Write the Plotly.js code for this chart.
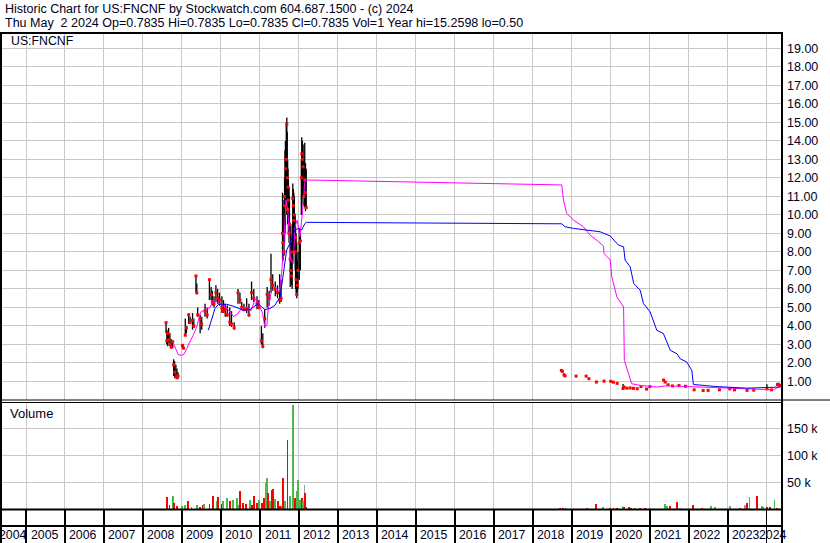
<!DOCTYPE html>
<html>
<head>
<meta charset="utf-8">
<script src="https://cdn.plot.ly/plotly-3.0.1.min.js"></script>
<style>
html,body{margin:0;padding:0;background:#fff;}
#chart{width:830px;height:543px;}
</style>
</head>
<body>
<div id="chart"></div>
<script>
// ---------- DATA ----------
const headerLine1 = "Historic Chart for US:FNCNF by Stockwatch.com 604.687.1500 - (c) 2024";
const headerLine2 = "Thu May \u00a02 2024 Op=0.7835 Hi=0.7835 Lo=0.7835 Cl=0.7835 Vol=1 Year hi=15.2598 lo=0.50";
const symbolLabel = "US:FNCNF";
const volumeLabel = "Volume";

const priceDates = [
 "2008-08-05","2008-08-12","2008-08-20","2008-08-29","2008-09-10","2008-09-22","2008-10-06","2008-10-15","2008-10-24","2008-11-05","2008-11-15","2008-11-25",
 "2009-01-05","2009-01-15","2009-02-01","2009-02-12","2009-03-05","2009-03-18","2009-04-10","2009-04-22","2009-05-12","2009-05-20","2009-05-28","2009-06-20","2009-07-05","2009-08-05","2009-08-25","2009-09-15","2009-10-01","2009-10-12","2009-10-28","2009-11-15","2009-12-01","2009-12-18",
 "2010-01-10","2010-01-25","2010-02-10","2010-03-01","2010-03-25","2010-04-10","2010-05-05","2010-06-10","2010-06-28","2010-07-15","2010-08-05","2010-08-30","2010-09-20","2010-10-15","2010-11-05","2010-12-05","2010-12-22",
 "2011-01-15","2011-01-28","2011-02-15","2011-03-10","2011-03-28","2011-04-15","2011-05-01","2011-05-25","2011-06-15","2011-07-05","2011-07-18",
 "2011-08-01","2011-08-05","2011-08-15","2011-08-20","2011-08-24","2011-08-28","2011-09-05","2011-09-10","2011-09-14","2011-09-18","2011-09-22","2011-09-25",
 "2011-10-01","2011-10-05","2011-10-12","2011-10-18","2011-10-25","2011-10-30","2011-11-05","2011-11-10","2011-11-15","2011-11-20","2011-11-28",
 "2011-12-01","2011-12-06","2011-12-12","2011-12-18","2011-12-24",
 "2012-01-05","2012-01-15","2012-01-24","2012-01-28","2012-02-03","2012-02-10","2012-02-17","2012-02-25","2012-03-03","2012-03-10",
 "2018-09-25","2018-10-05","2018-10-20","2018-10-30","2019-02-10","2019-05-15","2019-06-10","2019-08-20","2019-10-30","2020-01-01","2020-01-25","2020-03-01","2020-04-25","2020-05-05","2020-06-01","2020-07-01","2020-08-01","2020-09-05","2020-10-10","2020-12-01",
 "2021-01-01","2021-05-10","2021-05-25","2021-06-20","2021-08-01","2021-10-01","2021-12-01","2022-02-20","2022-05-15","2022-07-01","2022-10-15","2023-01-20","2023-03-05","2023-07-01","2023-09-01","2024-01-03","2024-02-15","2024-04-10","2024-04-20","2024-05-02"
];
const priceHi = [
 4.18,3.8,3.7,3.9,3.6,3.3,3.2,2.2,2.1,1.9,1.7,1.5,
 3.0,2.95,4.4,4.0,4.7,4.5,4.7,4.4,6.7,6.3,5.0,4.6,4.5,5.2,5.0,6.5,6.1,5.9,5.6,6.2,6.0,5.8,
 5.6,5.4,5.2,5.1,5.0,4.8,4.2,6.0,5.8,5.3,5.2,5.5,5.2,6.4,6.0,5.6,5.4,
 4.0,3.6,4.9,6.1,5.9,7.9,6.8,6.4,6.2,6.8,6.5,
 11.2,10.8,10.5,12.0,13.5,14.0,15.0,15.26,14.5,13.0,12.5,11.9,
 11.5,11.0,9.4,9.0,8.5,9.5,11.7,11.4,11.2,11.0,10.0,
 9.4,9.0,8.5,7.5,8.0,
 9.3,9.0,13.0,14.2,14.0,13.8,13.0,13.9,12.8,12.5,
 1.62,1.6,1.45,1.35,1.3,1.3,1.2,0.98,1.03,1.03,0.98,0.92,0.87,0.72,0.68,0.7,0.66,0.63,0.75,0.6,
 0.74,1.1,1.0,0.85,0.78,0.8,0.76,0.56,0.53,0.54,0.57,0.62,0.56,0.53,0.55,0.85,0.58,0.9,0.88,0.7835
];
const priceLo = [
 3.6,3.0,2.9,3.1,2.9,2.8,2.8,1.3,1.2,1.2,1.15,1.15,
 2.8,2.75,3.5,3.6,4.1,4.1,3.8,3.9,5.8,5.7,4.5,3.6,3.8,4.5,4.4,5.4,5.4,5.1,5.0,5.3,5.2,5.1,
 4.7,4.7,4.5,4.5,4.0,3.95,3.8,5.2,5.2,4.85,4.8,4.7,4.5,5.4,5.3,4.9,4.9,
 3.0,2.8,3.9,5.0,5.1,5.8,5.9,5.6,5.5,5.2,5.3,
 7.6,7.5,7.8,8.5,9.0,9.4,11.0,10.0,10.5,9.5,9.5,9.0,
 8.5,9.2,6.1,6.5,6.2,6.0,7.6,8.0,8.5,8.0,7.0,
 6.0,5.8,5.5,5.8,6.0,
 6.5,7.0,10.0,10.3,11.0,10.6,10.5,10.4,10.2,10.4,
 1.55,1.5,1.3,1.28,1.28,1.28,1.14,0.96,1.0,1.0,0.95,0.89,0.6,0.65,0.62,0.62,0.62,0.6,0.7,0.58,
 0.7,1.02,0.95,0.8,0.74,0.76,0.72,0.53,0.5,0.51,0.54,0.59,0.53,0.5,0.52,0.55,0.52,0.75,0.8,0.7835
];
const priceCl = [
 4.18,3.2,3.6,3.25,3.0,2.85,3.15,1.9,1.5,1.25,1.2,1.3,
 2.95,2.8,3.5,3.9,4.6,4.2,4.3,4.0,6.7,5.8,4.6,4.4,4.1,4.8,4.6,6.5,5.7,5.3,5.2,5.8,5.5,5.4,
 5.0,4.8,4.9,4.6,4.2,4.1,3.9,5.8,5.4,5.0,4.9,4.9,4.6,5.8,5.5,5.2,5.0,
 3.2,2.9,4.4,5.7,5.5,6.5,6.2,6.0,5.8,5.4,5.5,
 9.0,8.5,8.0,11.0,10.5,12.5,13.0,14.9,12.0,10.3,11.5,10.8,
 9.0,9.5,7.6,7.0,6.7,8.0,10.9,10.5,9.7,10.0,8.0,
 8.8,6.5,5.7,6.2,7.0,
 8.5,8.6,12.0,13.3,13.0,12.6,11.0,11.9,11.2,10.4,
 1.6,1.55,1.35,1.3,1.29,1.29,1.15,0.97,1.02,1.01,0.96,0.9,0.62,0.7,0.64,0.65,0.63,0.61,0.73,0.59,
 0.72,1.08,0.97,0.82,0.76,0.78,0.74,0.55,0.51,0.52,0.55,0.6,0.55,0.52,0.53,0.6,0.55,0.84,0.85,0.7835
];

// short moving average (magenta)
const maShortDates = [
 "2008-10-12","2008-11-06","2008-11-28","2008-12-27","2009-01-19","2009-02-13","2009-03-18","2009-04-16","2009-05-19","2009-06-13","2009-06-24","2009-08-03","2009-09-20","2009-10-23","2009-11-21",
 "2010-01-08","2010-03-10","2010-04-27","2010-06-02","2010-07-12","2010-08-29","2010-10-08","2010-11-17","2010-12-16",
 "2011-01-26","2011-02-16","2011-03-07","2011-03-21","2011-04-20","2011-05-22","2011-07-02","2011-07-23","2011-08-14","2011-09-02","2011-09-20","2011-10-15","2011-11-10","2011-11-25","2011-12-16",
 "2012-01-11","2012-02-06","2012-02-27",
 "2018-09-29","2018-10-15","2018-11-14","2019-01-18","2019-04-20","2019-06-21","2019-09-09","2019-10-26","2019-10-30","2019-12-27",
 "2020-01-11","2020-02-02","2020-02-27","2020-04-30","2020-05-02","2020-05-07","2020-06-16","2020-07-15","2020-10-03",
 "2021-03-07","2021-06-10","2022-01-15","2022-08-22","2023-06-28","2024-03-06","2024-04-30"
];
const maShortVals = [
 3.05,2.68,2.45,2.41,2.47,2.77,3.14,3.5,3.95,4.49,4.74,4.89,4.99,5.39,5.3,
 5.17,4.89,4.52,4.63,4.94,5.03,4.81,5.43,5.3,
 4.67,3.95,4.04,5.03,5.93,6.11,5.84,6.84,8.46,10.8,10.26,7.56,7.38,9.36,9.72,
 8.82,10.26,11.89,
 11.62,10.8,10.08,9.72,9.36,8.91,8.55,8.31,7.92,7.56,
 6.65,6.11,5.57,5.03,3.59,2.14,1.42,0.88,0.79,
 0.7,0.77,0.73,0.66,0.61,0.55,0.73
];

// long moving average (blue)
const maLongDates = [
 "2009-09-05","2009-10-04","2009-11-06","2009-12-09",
 "2010-02-24","2010-04-27","2010-06-13","2010-07-31","2010-10-01","2010-11-17","2010-12-16",
 "2011-01-18","2011-02-16","2011-04-05","2011-05-22","2011-07-09","2011-08-07","2011-09-09","2011-10-08","2011-11-25","2011-12-27",
 "2012-01-26","2012-02-27","2012-03-13",
 "2018-09-29","2018-10-30","2019-01-18","2019-05-22","2019-09-23","2019-12-27",
 "2020-03-13","2020-04-30","2020-05-14","2020-07-01","2020-08-03","2020-10-03","2020-11-02",
 "2021-01-04","2021-03-07","2021-05-08","2021-07-12","2021-09-12","2021-10-12","2021-12-13",
 "2022-01-29","2022-02-13","2022-09-05","2023-06-28","2024-05-08"
];
const maLongVals = [
 3.77,4.31,4.94,5.17,
 5.17,5.07,4.94,4.85,4.89,5.12,5.21,
 5.03,4.89,4.94,5.12,5.57,6.84,8.1,8.46,9.18,9.27,
 9.18,9.54,9.6,
 9.52,9.36,9.27,9.18,9.09,8.86,
 8.37,8.28,7.56,7.2,6.29,5.93,5.21,
 4.76,3.77,3.59,2.68,2.5,2.23,2.05,
 1.6,0.84,0.73,0.64,0.7
];

// volume (direction: 1 up, -1 down, 0 unchanged)
const volDates = [
 "2008-08-11","2008-09-06","2008-10-06","2008-10-19","2008-11-19","2008-12-30","2009-01-30","2009-03-02","2009-04-01","2009-05-18","2009-06-19","2009-07-14","2009-07-27","2009-09-15","2009-10-22","2009-11-22","2009-12-08",
 "2010-01-08","2010-01-23","2010-02-24","2010-03-27","2010-04-21","2010-05-28","2010-06-13","2010-06-29","2010-07-30","2010-08-24","2010-10-01","2010-10-17","2010-11-10","2010-12-02","2010-12-27",
 "2011-01-18","2011-02-12","2011-02-24","2011-03-06","2011-03-21","2011-04-06","2011-04-22","2011-05-07","2011-05-26","2011-06-23","2011-07-09","2011-07-25","2011-08-09","2011-08-25","2011-09-16","2011-10-11","2011-11-10","2011-11-26","2011-12-11","2011-12-27",
 "2012-01-12","2012-01-28","2012-02-06","2012-02-22","2012-02-28","2012-03-08",
 "2018-09-13","2018-10-08","2018-11-03","2019-01-17","2019-05-21","2019-08-14","2019-10-19","2019-12-27","2020-01-27","2020-02-27","2020-04-20","2020-05-05","2020-06-16","2020-07-08","2020-08-17","2020-10-03","2020-11-19",
 "2021-01-05","2021-02-05","2021-05-26","2021-06-10","2021-07-11","2021-09-12","2021-10-13","2022-02-09","2022-05-04","2022-07-27","2022-09-06",
 "2023-01-24","2023-04-28","2023-06-14","2023-06-30","2023-07-24","2023-10-01","2023-11-17","2023-12-02","2024-01-03","2024-01-28","2024-03-13","2024-04-06"
];
const volValues = [
 23000,9000,25000,12000,7000,7000,9000,15000,4000,8000,4000,8000,10000,11000,26000,15000,23600,
 11000,15000,21000,16500,18500,21000,8000,34700,12000,10800,18000,8800,26000,12000,18500,
 12000,21000,49000,59000,30000,15000,36600,38000,20000,15000,7000,7000,59000,16500,129000,25000,194000,22000,34000,54000,
 18500,22000,15000,45700,30000,5500,
 2300,2300,2300,2000,2000,10700,4000,2300,2300,2300,6800,4000,4000,3000,2500,2500,3000,
 2000,2000,10700,6800,6800,14600,2000,8600,2300,6800,5500,
 6800,2700,9000,12000,23000,26000,6800,5500,4000,4000,18500,2300
];
const volDir = [
 -1,-1,1,-1,-1,1,1,-1,1,1,-1,-1,1,-1,-1,1,-1,
 -1,1,1,-1,1,1,1,-1,-1,-1,1,-1,-1,-1,1,
 -1,-1,1,1,-1,1,-1,-1,1,-1,-1,1,-1,1,-1,1,1,-1,1,1,
 1,-1,1,0,-1,-1,
 -1,-1,-1,0,-1,-1,1,-1,-1,-1,1,-1,-1,-1,1,-1,-1,
 0,0,1,1,-1,-1,0,-1,-1,1,1,
 1,-1,0,-1,1,-1,1,1,-1,-1,1,-1
];

const yearLabels = ["2004","2005","2006","2007","2008","2009","2010","2011","2012","2013","2014","2015","2016","2017","2018","2019","2020","2021","2022","2023","2024"];
const priceTickVals = [1,2,3,4,5,6,7,8,9,10,11,12,13,14,15,16,17,18,19];
const priceTickText = ["1.00","2.00","3.00","4.00","5.00","6.00","7.00","8.00","9.00","10.00","11.00","12.00","13.00","14.00","15.00","16.00","17.00","18.00","19.00"];
const volTickVals = [50000,100000,150000];
const volTickText = ["50 k","100 k","150 k"];

// ---------- LAYOUT / STYLE ----------
const X_RANGE = ["2004-05-21","2024-05-23"];
const FONT = "Liberation Sans, Arial, sans-serif";
const TXT = "#000020";
const GRID = "#c8c8c8";
const W = 830, H = 543, ML = 2, MR = 48, MT = 33, MB = 0;
const PW = W - ML - MR, PH = H - MT - MB;
const px2py = y => (H - MB - y) / PH;   // pixel row -> paper y
const px2px = x => (x - ML) / PW;       // pixel col -> paper x

const dirColor = d => d > 0 ? "#4cb84c" : (d < 0 ? "#ff0000" : "#a0a0a0");

const traces = [
  {type:"ohlc", x:priceDates, open:priceCl, high:priceHi, low:priceLo, close:priceCl,
   xaxis:"x", yaxis:"y", tickwidth:0,
   increasing:{line:{color:"#000", width:1.3}}, decreasing:{line:{color:"#000", width:1.3}},
   hoverinfo:"skip", showlegend:false},
  {type:"scatter", mode:"markers", x:priceDates, y:priceCl, xaxis:"x", yaxis:"y",
   marker:{symbol:"square", size:3, color:"#ff0000", line:{width:0}}, hoverinfo:"skip", showlegend:false},
  {type:"scatter", mode:"lines", x:maShortDates, y:maShortVals, xaxis:"x", yaxis:"y",
   line:{color:"#ff00ff", width:1}, hoverinfo:"skip", showlegend:false},
  {type:"scatter", mode:"lines", x:maLongDates, y:maLongVals, xaxis:"x", yaxis:"y",
   line:{color:"#0000ff", width:1}, hoverinfo:"skip", showlegend:false},
  {type:"bar", x:volDates, y:volValues, xaxis:"x2", yaxis:"y2",
   width: 17*86400000,
   marker:{color: volDir.map(dirColor), line:{width:0}}, hoverinfo:"skip", showlegend:false},
  {type:"scatter", mode:"markers", x:[X_RANGE[0]], y:[0], xaxis:"x3", yaxis:"y3",
   marker:{opacity:0}, hoverinfo:"skip", showlegend:false}
];

const xBase = {
  type:"date", range:X_RANGE, autorange:false, showticklabels:false, ticks:"",
  tick0:"2005-01-01", dtick:"M12", showgrid:true, gridcolor:GRID, gridwidth:1,
  zeroline:false, showline:false, fixedrange:true, rangeslider:{visible:false}
};

// year label annotations centred in the visible part of each year box
const t0 = Date.parse(X_RANGE[0]), t1 = Date.parse(X_RANGE[1]);
const annotations = [];
yearLabels.forEach(lbl => {
  const y = parseInt(lbl, 10);
  const a = Math.max(Date.UTC(y,0,1), t0), b = Math.min(Date.UTC(y+1,0,1), t1);
  const mid = new Date((a+b)/2).toISOString().slice(0,19).replace("T"," ");
  annotations.push({xref:"x3", yref:"paper", x:mid, y:px2py(535), xanchor:"center", yanchor:"middle",
    text:lbl, showarrow:false, xshift:-1, font:{family:FONT, size:12.3, color:TXT}});
});
annotations.push(
  {xref:"paper", yref:"paper", x:px2px(3), y:px2py(9.5), xanchor:"left", yanchor:"middle", showarrow:false,
   text:headerLine1, font:{family:FONT, size:12.5, color:TXT}},
  {xref:"paper", yref:"paper", x:px2px(3), y:px2py(22.5), xanchor:"left", yanchor:"middle", showarrow:false,
   text:headerLine2, font:{family:FONT, size:12.5, color:TXT}},
  {xref:"paper", yref:"paper", x:px2px(9), y:px2py(41), xanchor:"left", yanchor:"middle", showarrow:false,
   text:symbolLabel, font:{family:FONT, size:12.3, color:TXT}},
  {xref:"paper", yref:"paper", x:px2px(8), y:px2py(413), xanchor:"left", yanchor:"middle", showarrow:false,
   text:volumeLabel, font:{family:FONT, size:13, color:TXT}}
);

const blk = w => ({color:"#000", width:w});
const shapes = [
  {type:"line", xref:"paper", yref:"paper", x0:px2px(0), x1:px2px(783), y0:px2py(33), y1:px2py(33), line:blk(2)},
  {type:"line", xref:"paper", yref:"paper", x0:px2px(1), x1:px2px(1), y0:px2py(32), y1:px2py(543), line:blk(2)},
  {type:"line", xref:"paper", yref:"paper", x0:px2px(782), x1:px2px(782), y0:px2py(32), y1:px2py(543), line:blk(2)},
  {type:"line", xref:"paper", yref:"paper", x0:px2px(0), x1:px2px(830), y0:px2py(400), y1:px2py(400), line:blk(1)},
  {type:"line", xref:"paper", yref:"paper", x0:px2px(0), x1:px2px(782), y0:px2py(402.5), y1:px2py(402.5), line:blk(1)},
  {type:"line", xref:"paper", yref:"paper", x0:px2px(0), x1:px2px(782), y0:px2py(509.5), y1:px2py(509.5), line:blk(2)},
  {type:"line", xref:"paper", yref:"paper", x0:px2px(0), x1:px2px(782), y0:px2py(526), y1:px2py(526), line:blk(2)}
];

const layout = {
  width:W, height:H, margin:{l:ML, r:MR, t:MT, b:MB, pad:0},
  paper_bgcolor:"#fff", plot_bgcolor:"#fff", showlegend:false,
  font:{family:FONT, size:12, color:TXT},
  bargap:0,
  xaxis: Object.assign({}, xBase, {anchor:"y", domain:[0,1]}),
  xaxis2: Object.assign({}, xBase, {anchor:"y2", domain:[0,1], matches:"x"}),
  xaxis3: Object.assign({}, xBase, {anchor:"y3", domain:[0,1], matches:"x", gridcolor:"#000", gridwidth:1.5}),
  yaxis: {domain:[px2py(400),1], anchor:"x", side:"right", range:[0,19.83], autorange:false,
          tickvals:priceTickVals, ticktext:priceTickText, ticks:"", showgrid:true, gridcolor:GRID,
          zeroline:false, showline:false, fixedrange:true, ticklabelstandoff:4,
          tickfont:{family:FONT, size:12.5, color:TXT}},
  yaxis2:{domain:[px2py(509.5), px2py(402)], anchor:"x2", side:"right", range:[0,200000], autorange:false,
          tickvals:volTickVals, ticktext:volTickText, ticks:"", showgrid:true, gridcolor:GRID,
          zeroline:false, showline:false, fixedrange:true, ticklabelstandoff:4,
          tickfont:{family:FONT, size:12.5, color:TXT}},
  yaxis3:{domain:[0, px2py(509.5)], anchor:"x3", range:[0,1], showticklabels:false, showgrid:false,
          zeroline:false, showline:false, fixedrange:true},
  annotations: annotations,
  shapes: shapes
};

Plotly.newPlot("chart", traces, layout, {staticPlot:true, displayModeBar:false});
</script>
</body>
</html>
